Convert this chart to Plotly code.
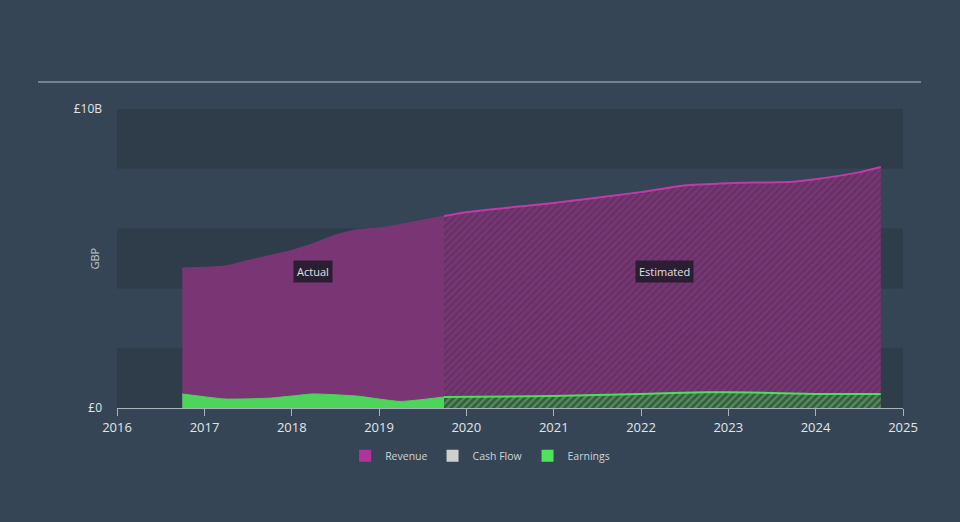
import plotly.graph_objects as go

# ---- data (values in £ billions) ----
rev_act_dates = ["2016-09-30", "2017-03-31", "2017-06-30", "2017-12-31", "2018-03-31",
                 "2018-06-30", "2018-09-30", "2018-12-31", "2019-03-31", "2019-09-30"]
rev_act_vals = [4.68, 4.75, 4.93, 5.27, 5.50, 5.78, 5.96, 6.02, 6.14, 6.42]

rev_est_dates = ["2019-09-30", "2019-12-31", "2020-12-31", "2021-12-31", "2022-06-30",
                 "2022-12-31", "2023-09-30", "2023-12-31", "2024-06-30", "2024-09-30"]
rev_est_vals = [6.42, 6.55, 6.86, 7.22, 7.44, 7.52, 7.57, 7.65, 7.88, 8.06]

earn_act_dates = ["2016-09-30", "2017-03-31", "2017-09-30", "2017-12-31", "2018-03-31",
                  "2018-09-30", "2019-03-31", "2019-09-30"]
earn_act_vals = [0.47, 0.30, 0.33, 0.40, 0.47, 0.40, 0.22, 0.37]

earn_est_dates = ["2019-09-30", "2020-12-31", "2021-12-31", "2022-09-30", "2023-03-31",
                  "2023-12-31", "2024-09-30"]
earn_est_vals = [0.37, 0.40, 0.47, 0.53, 0.52, 0.47, 0.47]

year_ticks = [f"{y}-01-01" for y in range(2016, 2026)]
year_labels = [str(y) for y in range(2016, 2026)]
y_ticks = [0, 10]
y_labels = ["£0", "£10B"]
legend_names = ["Revenue", "Cash Flow", "Earnings"]
legend_colors = ["#b0359b", "#cfcfcf", "#4ee35a"]

BG = "#354555"
BAND = "#2f3d4b"
REV_FILL = "#7a3674"
REV_LINE = "#c23aa8"
EARN_FILL = "#4dd45a"
EARN_LINE = "#4be05a"
FONT = "Open Sans"

fig = go.Figure()

# Revenue actual
fig.add_trace(go.Scatter(x=rev_act_dates, y=rev_act_vals, mode="lines", fill="tozeroy",
                         fillcolor=REV_FILL, line=dict(color=REV_FILL, width=1, shape="spline", smoothing=0.5),
                         showlegend=False, hoverinfo="skip"))
# Revenue estimated (hatched)
fig.add_trace(go.Scatter(x=rev_est_dates, y=rev_est_vals, mode="lines", fill="tozeroy",
                         fillcolor="#783573",
                         fillpattern=dict(shape="/", fgcolor="#47304f", size=5, solidity=0.4, fillmode="overlay"),
                         line=dict(color=REV_LINE, width=2, shape="spline", smoothing=0.5),
                         showlegend=False, hoverinfo="skip"))
# Earnings actual
fig.add_trace(go.Scatter(x=earn_act_dates, y=earn_act_vals, mode="lines", fill="tozeroy",
                         fillcolor=EARN_FILL, line=dict(color=EARN_FILL, width=1, shape="spline", smoothing=0.5),
                         showlegend=False, hoverinfo="skip"))
# Earnings estimated (hatched)
fig.add_trace(go.Scatter(x=earn_est_dates, y=earn_est_vals, mode="lines", fill="tozeroy",
                         fillcolor="#3e5747",
                         fillpattern=dict(shape="/", fgcolor="#5acf62", size=5, solidity=0.45, fillmode="overlay"),
                         line=dict(color=EARN_LINE, width=2, shape="spline", smoothing=0.5),
                         showlegend=False, hoverinfo="skip"))

# Legend-only entries
for name, col in zip(legend_names, legend_colors):
    fig.add_trace(go.Scatter(x=[None], y=[None], mode="markers", name=name,
                             marker=dict(symbol="square", size=12, color=col)))

# Background bands
shapes = []
for lo in [0, 4, 8]:
    shapes.append(dict(type="rect", xref="paper", yref="y", x0=0, x1=1, y0=lo, y1=lo + 2,
                       fillcolor=BAND, line=dict(width=0), layer="below"))
# Top separator line
shapes.append(dict(type="line", xref="paper", yref="paper", x0=-0.1005, x1=1.0229, y0=1.0903, y1=1.0903,
                   line=dict(color="#b8bec5", width=1)))

annotations = [
    dict(x="2018-04-01", y=4.58, xref="x", yref="y", text="Actual", showarrow=False,
         bgcolor="#2b1e33", font=dict(color="#e0e0e0", size=11, family=FONT), borderpad=3),
    dict(x="2022-04-10", y=4.58, xref="x", yref="y", text="Estimated", showarrow=False,
         bgcolor="#2b1e33", font=dict(color="#e0e0e0", size=11, family=FONT), borderpad=3),
    dict(x=-0.028, y=0.5, xref="paper", yref="paper", xanchor="center", yanchor="middle",
         text="GBP", showarrow=False, textangle=-90,
         font=dict(size=11, color="#c0c6cc", family=FONT)),
]

fig.update_layout(
    width=960, height=522,
    margin=dict(l=117, r=57, t=109, b=114),
    paper_bgcolor=BG, plot_bgcolor=BG,
    font=dict(family=FONT, color="#d0d4d8"),
    shapes=shapes, annotations=annotations,
    legend=dict(orientation="h", x=0.462, xanchor="center", y=-0.16, yanchor="middle",
                font=dict(size=10.5, color="#cfd3d7", family=FONT), bgcolor="rgba(0,0,0,0)",
                itemwidth=30),
    xaxis=dict(type="date", range=["2016-01-01", "2025-01-01"], tickvals=year_ticks, ticktext=year_labels,
               showgrid=False, zeroline=False, showline=True, linecolor="#aab2bb", linewidth=1,
               ticks="outside", ticklen=7, tickcolor="#aab2bb",
               tickfont=dict(size=13, color="#e2e5e8", family=FONT)),
    yaxis=dict(range=[0, 10], tickvals=y_ticks, ticktext=y_labels, showgrid=False, zeroline=False,
               showline=False, ticks="", ticklabelstandoff=14,
               tickfont=dict(size=12, color="#e2e5e8", family=FONT)),
    showlegend=True,
)

fig.write_html("out.html")
